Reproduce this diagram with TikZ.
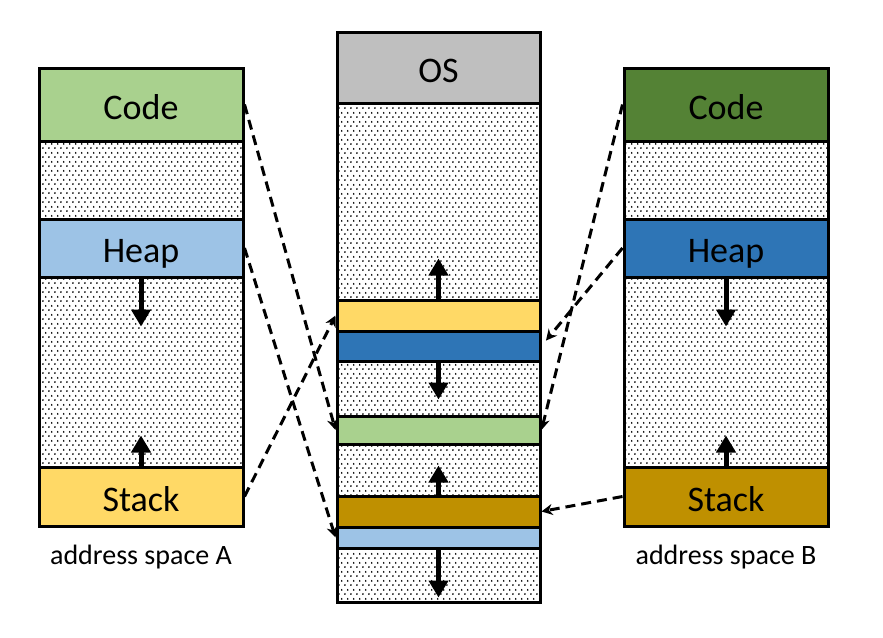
\documentclass[tikz,border=0pt]{standalone}
\usepackage{fontspec}
\setmainfont{Carlito}
\usetikzlibrary{patterns.meta,arrows.meta}

\definecolor{codeA}{HTML}{A9D18E}
\definecolor{heapA}{HTML}{9DC3E6}
\definecolor{stackA}{HTML}{FFD966}
\definecolor{codeB}{HTML}{548235}
\definecolor{heapB}{HTML}{2E75B6}
\definecolor{stackB}{HTML}{BF9000}
\definecolor{osgray}{HTML}{BFBFBF}

% staggered dots for unused memory
\pgfdeclarepattern{
    name=memdots, type=uncolored,
    bottom left={\pgfpoint{-1pt}{-1pt}}, top right={\pgfpoint{5.3pt}{7.6pt}},
    tile size={\pgfpoint{6.3pt}{8.6pt}},
    code={\pgfpathcircle{\pgfpointorigin}{1pt}\pgfpathcircle{\pgfpoint{3.15pt}{4.3pt}}{1pt}\pgfusepath{fill}}
}

\tikzset{
    free/.style={draw, line width=3pt, pattern=memdots},
    seg/.style={draw, line width=3pt, rectangle, inner sep=0pt},
    named/.style={seg, text height=29pt, text depth=0pt, font=\fontsize{36}{40}\selectfont},
    growarrow/.style={line width=5pt, -{Triangle[width=19pt,length=17pt]}},
    map/.style={line width=3pt, dash pattern=on 10pt off 6pt, -{Stealth[length=11pt,width=11pt]}},
    caption/.style={font=\fontsize{28}{32}\selectfont}
}

\begin{document}
\begin{tikzpicture}[x=1pt, y=-1pt]
        \useasboundingbox (0,0) rectangle (883,637);

        % address space A
        \draw[free] (39,68) rectangle (243,526);
        \node[named, fill=codeA, minimum width=204pt, minimum height=73pt] (codeA) at (141,104.5) {Code};
        \node[named, fill=heapA, minimum width=204pt, minimum height=58pt] (heapA) at (141,248) {Heap};
        \node[named, fill=stackA, minimum width=204pt, minimum height=59pt] (stackA) at (141,496.5) {Stack};
        \draw[growarrow] (heapA.south) -- ++(0,48);
        \draw[growarrow] (stackA.north) -- ++(0,-30);
        \node[caption] (capA) at (141,557) {address space A};

        % physical memory
        \draw[free] (337,32) rectangle (540,602);
        \node[named, fill=osgray, minimum width=203pt, minimum height=71pt] (os) at (438.5,67.5) {OS};
        \node[seg, fill=stackA, minimum width=203pt, minimum height=31pt] (pStackA) at (438.5,315.5) {};
        \node[seg, fill=heapB, minimum width=203pt, minimum height=30pt] (pHeapB) at (438.5,346) {};
        \node[seg, fill=codeA, minimum width=203pt, minimum height=28pt] (pCode) at (438.5,430) {};
        \node[seg, fill=stackB, minimum width=203pt, minimum height=31pt] (pStackB) at (438.5,511.5) {};
        \node[seg, fill=heapA, minimum width=203pt, minimum height=21pt] (pHeapA) at (438.5,537.5) {};
        \draw[growarrow] (pStackA.north) -- ++(0,-40);
        \draw[growarrow] (pHeapB.south) -- ++(0,37);
        \draw[growarrow] (pStackB.north) -- ++(0,-29);
        \draw[growarrow] (pHeapA.south) -- ++(0,48);

        % address space B
        \draw[free] (624,68) rectangle (828,526);
        \node[named, fill=codeB, minimum width=204pt, minimum height=73pt] (codeB) at (726,104.5) {Code};
        \node[named, fill=heapB, minimum width=204pt, minimum height=58pt] (heapB) at (726,248) {Heap};
        \node[named, fill=stackB, minimum width=204pt, minimum height=59pt] (stackB) at (726,496.5) {Stack};
        \draw[growarrow] (heapB.south) -- ++(0,48);
        \draw[growarrow] (stackB.north) -- ++(0,-30);
        \node[caption] (capB) at (726,557) {address space B};

        % mappings
        \draw[map] (codeA.east) -- (pCode.west);
        \draw[map] (heapA.east) -- (pHeapA.west);
        \draw[map] (stackA.east) -- (pStackA.west);
        \draw[map] (codeB.west) -- (pCode.east);
        \draw[map, shorten >=7pt] (heapB.west) -- (pHeapB.east);
        \draw[map] (stackB.west) -- (pStackB.east);
    \end{tikzpicture}
\end{document}
